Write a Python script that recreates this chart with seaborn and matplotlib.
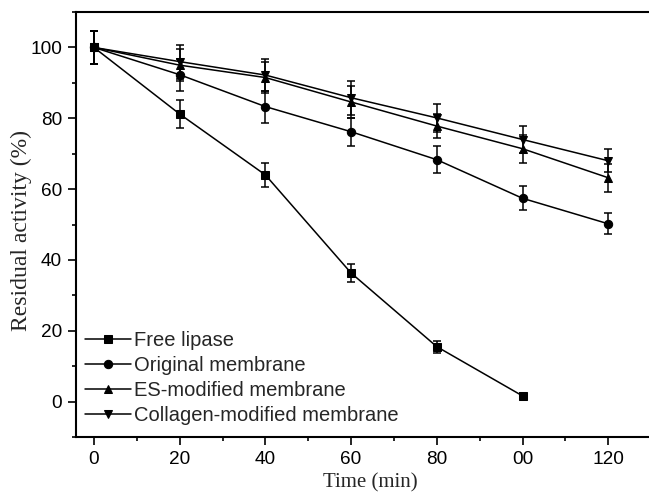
import numpy as np
import pandas as pd
import matplotlib
matplotlib.use("Agg")
import matplotlib.pyplot as plt
import seaborn as sns
from matplotlib.ticker import MultipleLocator

# ---- data ----
time_free = [0, 20, 40, 60, 80, 100]
free_lipase = [100, 81.2, 64.0, 36.3, 15.5, 1.6]
free_err = [4.7, 4.0, 3.5, 2.5, 1.7, 0.9]

time_mem = [0, 20, 40, 60, 80, 100, 120]
original = [100, 92.3, 83.3, 76.2, 68.3, 57.4, 50.2]
original_err = [4.7, 4.5, 4.5, 4.0, 3.8, 3.4, 3.0]
es_mod = [100, 95.0, 91.5, 84.6, 77.8, 71.4, 63.2]
es_err = [4.7, 4.5, 4.5, 4.5, 3.4, 4.0, 3.9]
collagen = [100, 96.0, 92.2, 85.8, 80.1, 74.0, 68.0]
collagen_err = [4.7, 4.8, 4.5, 4.8, 4.0, 3.7, 3.2]

series_names = ["Free lipase", "Original membrane", "ES-modified membrane",
                "Collagen-modified membrane"]
x_ticks = [0, 20, 40, 60, 80, 100, 120]
x_tick_labels = ["0", "20", "40", "60", "80", "00", "120"]
y_ticks = [0, 20, 40, 60, 80, 100]

rows = []
for name, t, v, e in [(series_names[0], time_free, free_lipase, free_err),
                      (series_names[1], time_mem, original, original_err),
                      (series_names[2], time_mem, es_mod, es_err),
                      (series_names[3], time_mem, collagen, collagen_err)]:
    for ti, vi, ei in zip(t, v, e):
        rows.append({"Time": ti, "Activity": vi, "Err": ei, "Series": name})
df = pd.DataFrame(rows)

sns.set_theme(style="ticks")
plt.rcParams["font.family"] = ["Liberation Sans", "DejaVu Sans"]

fig = plt.figure(figsize=(6.49, 4.93), dpi=100)
ax = fig.add_axes([0.117, 0.1136, 0.883, 0.862])

markers = {series_names[0]: "s", series_names[1]: "o",
           series_names[2]: "^", series_names[3]: "v"}
palette = {n: "black" for n in series_names}

sns.lineplot(data=df, x="Time", y="Activity", hue="Series", style="Series",
             markers=markers, dashes=False, palette=palette, ax=ax,
             markersize=6, linewidth=1.1, markeredgecolor="black",
             hue_order=series_names, style_order=series_names, legend=True)

for name in series_names:
    sub = df[df["Series"] == name]
    ax.errorbar(sub["Time"], sub["Activity"], yerr=sub["Err"], fmt="none",
                ecolor="black", elinewidth=1.1, capsize=3, capthick=1.1)

ax.set_xlim(-4.2, 129.5)
ax.set_ylim(-10, 110)
ax.set_xticks(x_ticks)
ax.set_xticklabels(x_tick_labels)
ax.set_yticks(y_ticks)
ax.xaxis.set_minor_locator(MultipleLocator(10))
ax.yaxis.set_minor_locator(MultipleLocator(10))
ax.tick_params(axis="both", which="major", direction="out", length=6, width=1.2,
               labelsize=13.7, color="black", labelcolor="black", pad=4)
ax.tick_params(axis="both", which="minor", direction="out", length=3, width=1.2,
               color="black")
for s in ["left", "bottom", "top"]:
    ax.spines[s].set_linewidth(1.5)
    ax.spines[s].set_color("black")
ax.spines["right"].set_visible(False)

ax.set_xlabel("Time (min)", family=["Liberation Serif"], fontsize=15)
ax.set_ylabel("Residual activity (%)", family=["Liberation Serif"], fontsize=17)
ax.xaxis.set_label_coords(0.513, -0.085)
ax.yaxis.set_label_coords(-0.077, 0.487)

leg = ax.legend(loc="lower left", bbox_to_anchor=(-0.005, 0.0), frameon=False,
                fontsize=14.5, handlelength=2.3, handletextpad=0.15,
                labelspacing=0.3, borderaxespad=0.2)
for h in leg.legend_handles:
    h.set_color("black")
    h.set_markeredgecolor("black")

fig.savefig("out.png", dpi=100)
